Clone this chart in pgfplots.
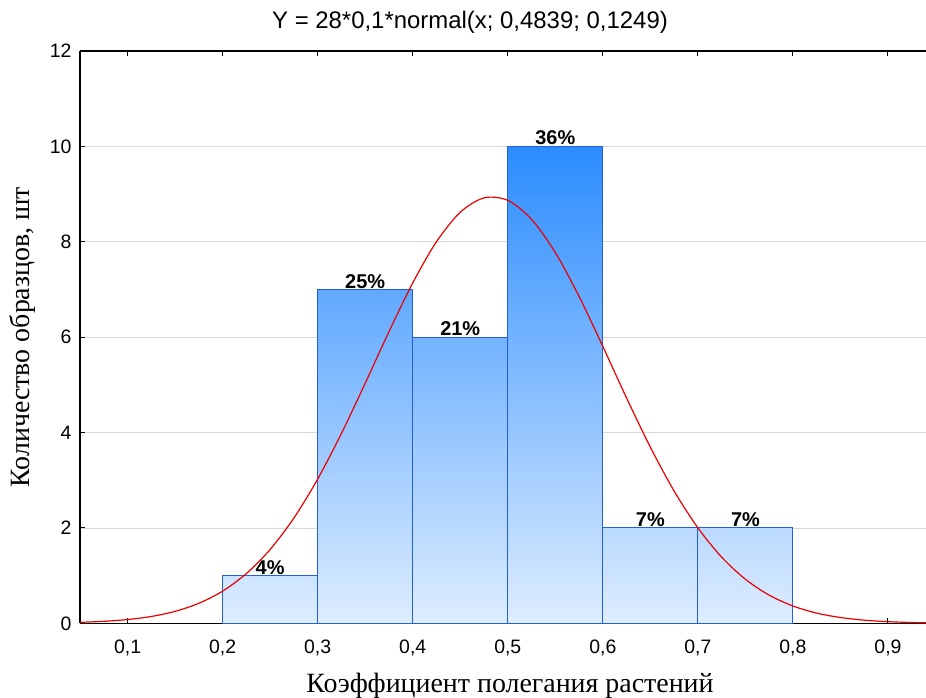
\documentclass[border=0pt]{standalone}
\usepackage{pgfplots}
\pgfplotsset{compat=1.18}
\usepackage{fontspec}
\setmainfont{Liberation Sans}
\newfontfamily\labelfont{Liberation Serif}

\definecolor{bardark}{RGB}{43,140,255}
\definecolor{barlight}{RGB}{222,237,255}
\definecolor{baredge}{RGB}{35,95,215}
\definecolor{fitred}{RGB}{235,0,0}

\begin{document}
\begin{tikzpicture}
\begin{axis}[
  scale only axis,
  width=845.5bp, height=572bp,
  xmin=0.05, xmax=0.94, ymin=0, ymax=12,
  axis y line*=left,
  xtick={0.1,0.2,0.3,0.4,0.5,0.6,0.7,0.8,0.9},
  ytick={0,2,4,6,8,10,12},
  tick align=inside,
  major tick length=5bp,
  ymajorgrids,
  grid style={draw=black!15, line width=0.8bp},
  axis line style={black, line width=1.4bp},
  tick style={black, line width=1bp},
  /pgf/number format/assume math mode=true,
  tick label style={font=\fontsize{19.5}{22}\selectfont},
  xticklabel style={yshift=-13bp,
    /pgf/number format/.cd, fixed, fixed zerofill, precision=1, use comma},
  yticklabel style={xshift=-5bp},
]
\coordinate (bl) at (rel axis cs:0,0);
\coordinate (tr) at (rel axis cs:1,1);
\coordinate (tc) at (rel axis cs:0.5,1);
\coordinate (bc) at (rel axis cs:0.5,0);
\coordinate (lc) at (rel axis cs:0,0.5);

% histogram bars: shade darkens with bar height
\addplot[draw=baredge, line width=1bp, top color=bardark!10!barlight, bottom color=barlight]
  coordinates {(0.2,0) (0.2,1) (0.3,1) (0.3,0)} -- cycle;
\addplot[draw=baredge, line width=1bp, top color=bardark!70!barlight, bottom color=barlight]
  coordinates {(0.3,0) (0.3,7) (0.4,7) (0.4,0)} -- cycle;
\addplot[draw=baredge, line width=1bp, top color=bardark!60!barlight, bottom color=barlight]
  coordinates {(0.4,0) (0.4,6) (0.5,6) (0.5,0)} -- cycle;
\addplot[draw=baredge, line width=1bp, top color=bardark, bottom color=barlight]
  coordinates {(0.5,0) (0.5,10) (0.6,10) (0.6,0)} -- cycle;
\addplot[draw=baredge, line width=1bp, top color=bardark!20!barlight, bottom color=barlight]
  coordinates {(0.6,0) (0.6,2) (0.7,2) (0.7,0)} -- cycle;
\addplot[draw=baredge, line width=1bp, top color=bardark!20!barlight, bottom color=barlight]
  coordinates {(0.7,0) (0.7,2) (0.8,2) (0.8,0)} -- cycle;

% fitted normal curve, Y = 28*0.1*N(x; 0.4839, 0.1249)
\addplot[fitred, line width=1.2bp, smooth] coordinates {
  (0.05,0.0214) (0.075,0.0421) (0.1,0.0794) (0.125,0.1440) (0.15,0.2509)
  (0.175,0.4200) (0.2,0.6753) (0.225,1.0434) (0.25,1.5488) (0.275,2.2086)
  (0.3,3.0251) (0.325,3.9814) (0.35,5.0342) (0.375,6.1154) (0.4,7.1371)
  (0.425,8.0023) (0.45,8.6201) (0.475,8.9208) (0.5,8.8695)
  (0.525,8.4722) (0.55,7.7750) (0.575,6.8549) (0.6,5.8062) (0.625,4.7248)
  (0.65,3.6937) (0.675,2.7743) (0.7,2.0020) (0.725,1.3881) (0.75,0.9245)
  (0.775,0.5915) (0.8,0.3636) (0.825,0.2147) (0.85,0.1219) (0.875,0.0664)
  (0.9,0.0348) (0.925,0.0175) (0.94,0.0114)
};

% percentage labels above bars
\addplot[only marks, mark=none, nodes near coords, point meta=explicit symbolic,
  every node near coord/.style={anchor=south, inner sep=1bp,
    font=\fontsize{20}{22}\selectfont\bfseries}]
  table[meta=lab] {
    x    y   lab
    0.25 1   4\%
    0.35 7   25\%
    0.45 6   21\%
    0.55 10  36\%
    0.65 2   7\%
    0.75 2   7\%
  };
\end{axis}

\node[font=\fontsize{24}{26}\selectfont] at ([xshift=-33bp,yshift=29bp]tc) {Y = 28*0,1*normal(x; 0,4839; 0,1249)};
\node[font=\labelfont\fontsize{28}{30}\selectfont] at ([xshift=7bp,yshift=-62bp]bc) {Коэффициент полегания растений};
\node[font=\labelfont\fontsize{28}{30}\selectfont, rotate=90] at ([xshift=-58bp]lc) {Количество образцов, шт};

\pgfresetboundingbox
\path[use as bounding box] ([xshift=-80bp,yshift=-74bp]bl) rectangle ([yshift=51bp]tr);
\end{tikzpicture}
\end{document}
